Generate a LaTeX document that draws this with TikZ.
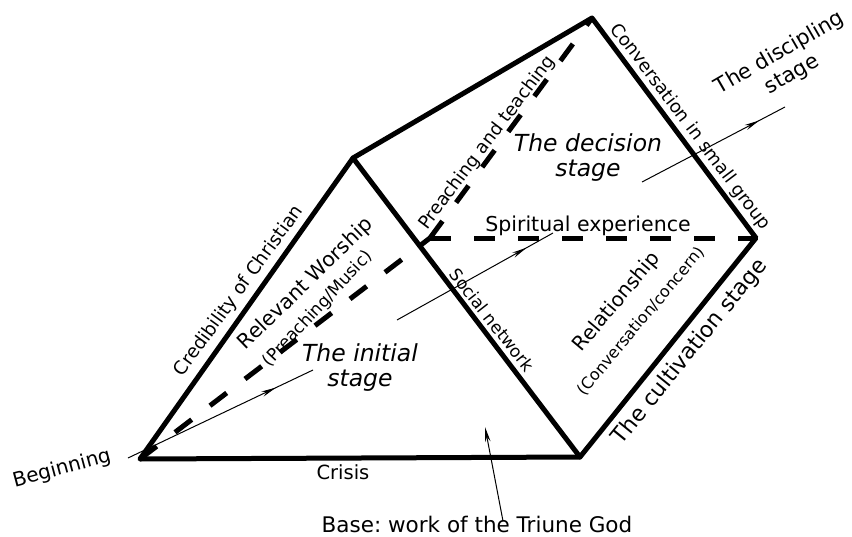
\documentclass[tikz,border=0pt]{standalone}
\usepackage{fontspec}
\setmainfont{DejaVu Sans}
\usetikzlibrary{arrows.meta,decorations.markings}
\frenchspacing
\begin{document}
\begin{tikzpicture}[x=1pt,y=-1pt,
  edge/.style={line width=5pt, line join=round, line cap=round},
  hidden/.style={line width=5pt, dash pattern=on 21pt off 23pt},
  flow/.style={line width=1pt, postaction={decorate},
    decoration={markings, mark=at position #1 with {\arrow{Stealth[length=15pt,width=5.5pt]}}}},
  lbl/.style={inner sep=0pt, align=center},
  fs/.style={font=\fontsize{#1}{25}\selectfont},
  fi/.style={font=\fontsize{#1}{25}\selectfont\itshape}]
\useasboundingbox (0,0) rectangle (852,536);
% vertices
\coordinate (A) at (140,459);
\coordinate (B) at (353,158);
\coordinate (C) at (580,457);
\coordinate (D) at (592,18);
\coordinate (E) at (756,238);
\coordinate (F) at (430,238);
% hidden edges
\draw[hidden] (A) -- (F);
\draw[hidden] (F) -- (E);
\draw[hidden] (F) -- (D);
% visible edges
\draw[edge] (A) -- (B) -- (D) -- (E) -- (C) -- cycle;
\draw[edge] (B) -- (C);
% flow line
\coordinate (p0) at (128,458);
\coordinate (p1) at (313,370);
\coordinate (p2) at (397,320);
\coordinate (p3) at (553,233);
\coordinate (p4) at (642,182);
\coordinate (p5) at (785,107);
\draw[flow=0.8] (p0) -- (p1);
\draw[flow=0.83] (p2) -- (p3);
\draw[flow=0.82] (p4) -- (p5);
% base arrow
\node[lbl, fs=21.5] (base) at (477,524) {Base: work of the Triune God};
\coordinate (bs) at (503,521);
\coordinate (bt) at (485,427);
\draw[line width=1pt, -{Stealth[length=15pt,width=5.5pt]}] (bs) -- (bt);
% labels
\node[lbl, fs=20, rotate=15] (beg) at (62,469) {Beginning};
\node[lbl, fs=19.5] (crisis) at (343,472) {Crisis};
\node[lbl, fs=18.5, rotate=54] (cred) at (239,291) {Credibility of Christian};
\node[lbl, fs=20.5, rotate=44] (rw) at (306,284) {Relevant Worship};
\node[lbl, fs=17, rotate=47] (pm) at (318,309) {(Preaching/Music)};
\node[lbl, fi=23.5] (init) at (360,368) {The initial\\stage};
\node[lbl, fs=18, rotate=53] (pt) at (487,143) {Preaching and teaching};
\node[lbl, fi=23.5] (dec) at (588,158) {The decision\\stage};
\node[lbl, fs=18, rotate=-53] (conv) at (690,127) {Conversation in small group};
\node[lbl, fs=21, rotate=30] (disc) at (786,64) {The discipling\\stage};
\node[lbl, fs=20.5] (spir) at (588,226) {Spiritual experience};
\node[lbl, fs=17, rotate=-52] (soc) at (492,320) {Social network};
\node[lbl, fs=20, rotate=50] (rel) at (617,302) {Relationship};
\node[lbl, fs=16, rotate=50] (cc) at (641,321) {(Conversation/concern)};
\node[lbl, fs=22, rotate=51] (cult) at (690,352) {The cultivation stage};
\end{tikzpicture}
\end{document}
